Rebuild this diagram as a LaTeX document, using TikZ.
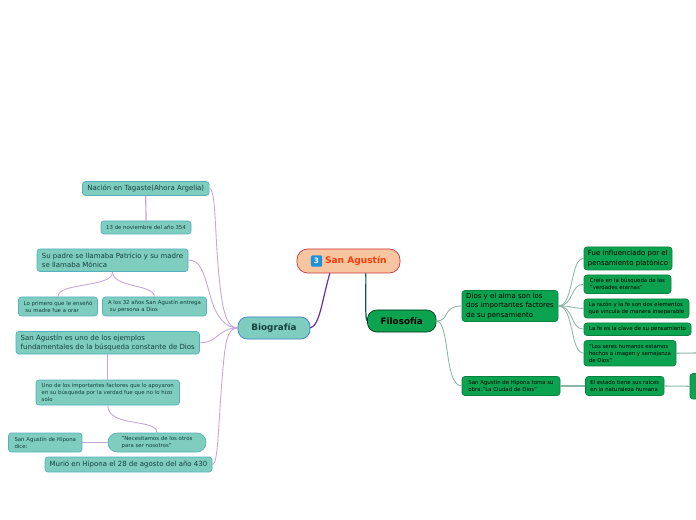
\documentclass[tikz,border=0pt]{standalone}
\usepackage{fontspec}
\setmainfont{DejaVu Sans}
\definecolor{tealfill}{HTML}{7FCDBE}
\definecolor{tealline}{HTML}{55B0BE}
\definecolor{tealtext}{HTML}{14403C}
\definecolor{leafgreen}{HTML}{0BA34F}
\definecolor{peach}{HTML}{F7C59F}
\definecolor{rootred}{HTML}{C9303F}
\definecolor{rootink}{HTML}{F53D0A}
\definecolor{lilac}{HTML}{C4A6DA}
\definecolor{deeppurple}{HTML}{6A2FA0}
\definecolor{pine}{HTML}{0C5B48}
\definecolor{sage}{HTML}{8DB5A6}
\definecolor{tile}{HTML}{1E90DC}
\tikzset{
  card/.style={rounded corners=2.2pt, line width=0.5pt, inner sep=0pt, align=left},
  tealbig/.style={card, draw=tealline, fill=tealfill, text=tealtext, font=\fontsize{5.25}{7}\selectfont},
  tealsmall/.style={card, draw=tealline, fill=tealfill, text=tealtext, font=\fontsize{4.05}{5.3}\selectfont},
  greenbig/.style={card, draw=leafgreen!80!black, fill=leafgreen, text=black, font=\fontsize{5.25}{7}\selectfont},
  greensmall/.style={card, draw=leafgreen!80!black, fill=leafgreen, text=black, font=\fontsize{4.05}{5.3}\selectfont},
  mainline/.style={line width=0.9pt},
  purpleline/.style={draw=lilac, line width=0.65pt},
  sageline/.style={draw=sage, line width=0.65pt},
}
\begin{document}
\begin{tikzpicture}[x=0.75pt, y=-0.75pt]
  \useasboundingbox (0,0) rectangle (696,520);
  \clip (0,0) rectangle (696,520);
  % centre
  \node[card, draw=rootred, fill=peach, rounded corners=8pt, minimum width=77.25pt, minimum height=18pt, text=rootink, font=\fontsize{6.8}{8}\selectfont\bfseries] (root) at (348.5,261) {\hspace{11pt}San Agustín};
  \node[rounded corners=1pt, fill=tile, text=white, inner sep=0pt, minimum size=8.5pt, font=\fontsize{5.5}{6}\selectfont\bfseries] (tile) at (316.5,261) {3};
  \node[card, draw=tealline!70!blue, fill=tealfill, rounded corners=7pt, minimum width=54pt, minimum height=16.5pt, text=tealtext, font=\fontsize{6.6}{8}\selectfont\bfseries] (bio) at (274,328) {Biografía};
  \node[card, draw=black!70!leafgreen, fill=leafgreen, rounded corners=7pt, minimum width=51.5pt, minimum height=16.5pt, text=black, font=\fontsize{6.6}{8}\selectfont\bfseries] (filo) at (401.75,321) {Filosofía};
  % left side
  \node[tealbig, minimum width=95pt, minimum height=10.5pt] (nacion) at (145.75,188.5) {Nación en Tagaste(Ahora Argelia)};
  \node[tealsmall, minimum width=67.5pt, minimum height=9.75pt] (fecha) at (146,227.5) {13 de noviembre del año 354};
  \node[tealbig, minimum width=113.25pt, minimum height=16.9pt] (padre) at (112.5,260.25) {Su padre se llamaba Patricio y su madre\\se llamaba Mónica};
  \node[tealsmall, minimum width=59.25pt, minimum height=14.25pt] (primero) at (58,306.5) {Lo primero que le enseñó\\\ su madre fue a orar};
  \node[tealsmall, minimum width=78pt, minimum height=14.25pt] (treinta) at (154.5,306.5) {A los 32 años San Agustín entrega\\\ su persona a Dios};
  \node[tealbig, minimum width=137.6pt, minimum height=16.9pt] (ejemplo) at (107.75,342.75) {San Agustín es uno de los ejemplos\\fundamentales de la búsqueda constante de Dios};
  \node[tealsmall, minimum width=107.6pt, minimum height=18.75pt] (factores) at (107.75,392.5) {Uno de los importantes factores que lo apoyaron\\en su búsqueda por la verdad fue que no lo hizo\\solo};
  \node[tealsmall, rounded corners=7pt, minimum width=73.5pt, minimum height=14.25pt] (otros) at (157,442.5) {"Necesitamos de los otros\\para ser nosotros"};
  \node[tealsmall, minimum width=55.1pt, minimum height=14.25pt] (dice) at (45.25,442.5) {San Agustín de Hipona\\dice:};
  \node[tealbig, minimum width=125.25pt, minimum height=11.25pt] (murio) at (128.5,464.5) {Murió en Hipona el 28 de agosto del año 430};
  % right side
  \node[greenbig, minimum width=72pt, minimum height=23.25pt] (alma) at (510,306) {Dios y el alma son los\\dos importantes factores\\de su pensamiento};
  \node[greenbig, minimum width=66pt, minimum height=17.25pt] (fue) at (628,258.5) {Fue influenciado por el\\pensamiento platónico};
  \node[greensmall, minimum width=65.25pt, minimum height=13.9pt] (creia) at (627.5,284.25) {Creía en la búsqueda de las\\"verdades eternas"};
  \node[greensmall, minimum width=78.75pt, minimum height=14.25pt] (razon) at (636.5,308.5) {La razón y la fe son dos elementos\\que vincula de manera inseparable};
  \node[greensmall, minimum width=80.25pt, minimum height=9.4pt] (clave) at (637.5,329.25) {La fe es la clave de su pensamiento};
  \node[greensmall, minimum width=69pt, minimum height=19.1pt] (seres) at (630,353.25) {"Los seres humanos estamos\\hechos a imagen y semejanza\\de Dios"};
  \node[greensmall, minimum width=73.5pt, minimum height=14.25pt] (ciudad) at (511,386) {San Agustín de Hipona toma su\\obra:"La Ciudad de Dios"};
  \node[greensmall, minimum width=58.9pt, minimum height=14.25pt] (estado) at (624.75,386) {El estado tiene sus raíces\\en la naturaleza humana};
  \node[greensmall, minimum width=30pt, minimum height=19.1pt] (corte) at (710,386.25) {};
  \coordinate (salida) at (696,353);
  % links
  \draw[mainline, deeppurple] ([xshift=-14pt]root.south) .. controls (322,300) and (320,325) .. (bio.east);
  \draw[mainline, pine] ([xshift=13pt]root.south) .. controls (366,300) and (365,318) .. (filo.west);
  \draw[purpleline] (nacion.east) .. controls (217,188) and (214,250) .. (222,300) .. controls (225,320) and (230,328) .. (bio.west);
  \draw[purpleline] (padre.east) .. controls (200,260) and (203,270) .. (210,295) .. controls (216,318) and (226,328) .. (bio.west);
  \draw[purpleline] (ejemplo.east) .. controls (218,343) and (218,328) .. (bio.west);
  \draw[purpleline] (murio.east) .. controls (218,465) and (218,430) .. (222,380) .. controls (225,345) and (226,328) .. (bio.west);
  \draw[purpleline, line width=0.9pt] (nacion.south) -- (fecha.north);
  \draw[purpleline] (padre.south) .. controls (113,288) and (58,282) .. (primero.north);
  \draw[purpleline] (padre.south) .. controls (113,288) and (154,284) .. (treinta.north);
  \draw[purpleline, line width=0.9pt] (ejemplo.south) -- (factores.north);
  \draw[purpleline] (factores.south) .. controls (108,428) and (157,418) .. (otros.north);
  \draw[purpleline, line width=0.9pt] (otros.west) -- (dice.east);
  \draw[sageline] (filo.east) .. controls (450,321) and (442,306) .. (alma.west);
  \draw[sageline] (filo.east) .. controls (450,321) and (444,386) .. (ciudad.west);
  \foreach \leafname/\bendy in {fue/258, creia/284, razon/308, clave/329, seres/353}{
    \draw[sageline] (alma.east) .. controls (574,306) and (570,\bendy) .. (\leafname.west);
  }
  \draw[sageline, line width=0.8pt] (ciudad.east) -- (estado.west);
  \draw[sageline, line width=0.8pt] (estado.east) -- (corte.west);
  \draw[sageline, line width=0.8pt] (seres.east) -- (salida);
\end{tikzpicture}
\end{document}
